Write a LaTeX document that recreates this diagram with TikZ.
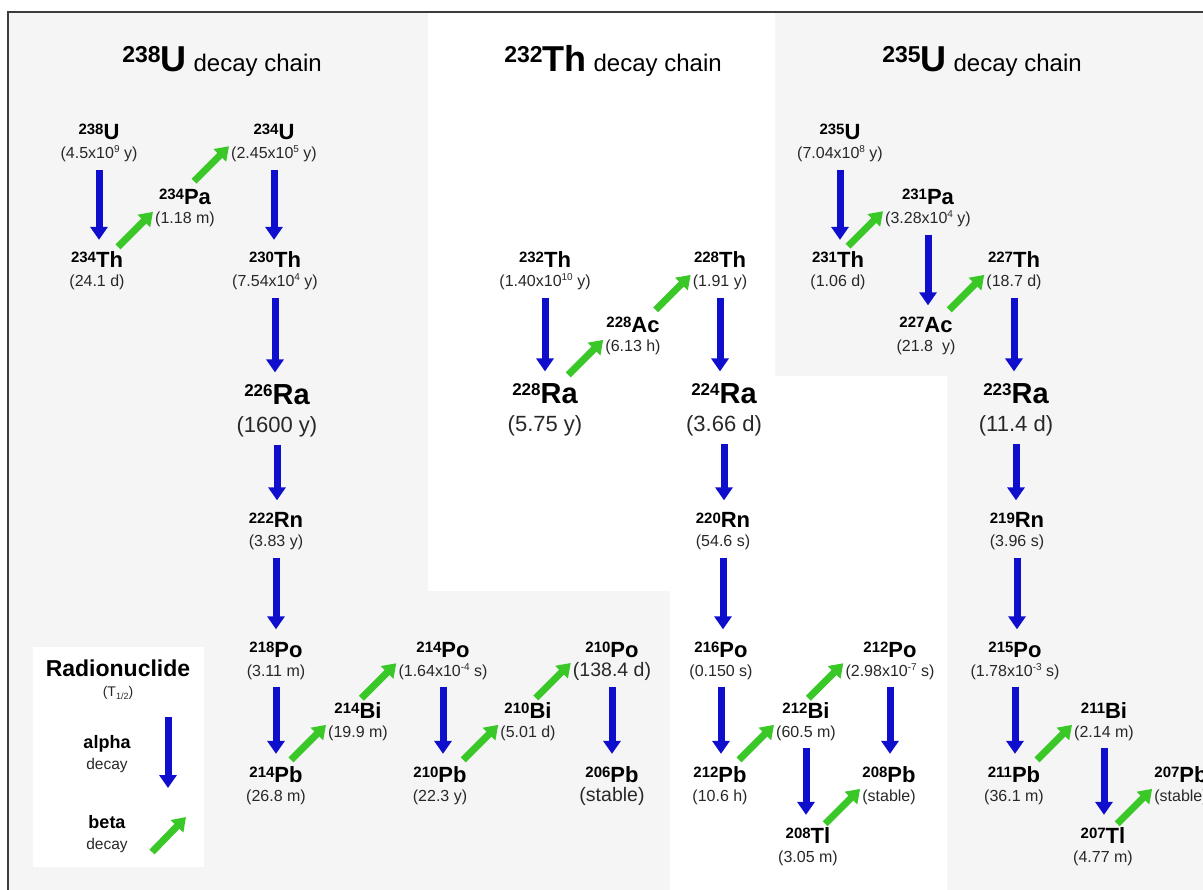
\documentclass[tikz,border=0pt]{standalone}
\usepackage{fontspec}
\setmainfont{Liberation Sans}
\usetikzlibrary{arrows.meta,calc}

\definecolor{panelgray}{RGB}{245,245,245}
\definecolor{framegray}{RGB}{60,60,60}
\definecolor{ablue}{RGB}{14,14,204}
\definecolor{bgreen}{RGB}{58,200,40}
\definecolor{textgray}{RGB}{40,40,40}

% isotope labels: mass number raised to cap height, element symbol bold
\newcommand\iso[2]{\raisebox{5pt}{\fontsize{15}{15}\selectfont\bfseries #1}{\fontsize{22}{22}\selectfont\bfseries #2}}
\newcommand\bigiso[2]{\raisebox{8.5pt}{\fontsize{17}{17}\selectfont\bfseries #1}{\fontsize{29}{29}\selectfont\bfseries #2}}
\newcommand\expo[1]{\raisebox{6pt}{\fontsize{10}{10}\selectfont #1}}
\newcommand\chaintitle[2]{\raisebox{9.3pt}{\fontsize{23}{23}\selectfont\bfseries #1}{\fontsize{36}{36}\selectfont\bfseries #2}\hspace{7pt}{\fontsize{24}{24}\selectfont decay chain}}

\tikzset{
  symb/.style={anchor=base, inner sep=0pt},
  hl/.style={anchor=base, inner sep=0pt, text=textgray, font=\fontsize{16}{16}\selectfont},
  hlmid/.style={hl, font=\fontsize{19.5}{20}\selectfont},
  hlbig/.style={hl, font=\fontsize{22}{22}\selectfont},
  alphaarrow/.style={draw=ablue, line width=7pt, -{Triangle[length=13pt,width=17pt]}},
  betaarrow/.style={draw=bgreen, line width=7pt, -{Triangle[length=13pt,width=17pt]}},
  legendtext/.style={anchor=base, inner sep=0pt},
}

% a nuclide: symbol node (name) and half-life node (name t) below it
\newcommand\nuclide[7][hl]{%
  \node[symb] (#2) at (#3,#4) {\iso{#5}{#6}};
  \node[#1] (#2t) at (#3,#4+19) {#7};}
\newcommand\bignuclide[6]{%
  \node[symb] (#1) at (#2,#3) {\bigiso{#4}{#5}};
  \node[hlbig] (#1t) at (#2,#3+28) {#6};}

% alpha decay: straight down from the parent's half-life to the daughter
\newcommand\alphadecay[2]{\draw[alphaarrow, shorten <=7pt, shorten >=12pt] (#1t.south) -- (#1t.south |- #2.north);}
% beta decay (#1 -> #2): diagonal arrow ending at the daughter's half-life
\newcommand\betadecay[2]{\draw[betaarrow] ([shift={(-37,27)}]#2t.west) -- ([shift={(-2,-8)}]#2t.west);}

\begin{document}
\begin{tikzpicture}[x=1pt,y=-1pt]
\useasboundingbox (0,0) rectangle (1203,890);

% panels
\fill[panelgray] (8,12) rectangle (1203,890);
\fill[white] (428,12.7) -- (775,12.7) -- (775,376) -- (947,376) -- (947,890)
  -- (670,890) -- (670,591) -- (428,591) -- cycle;
\draw[framegray, line width=1.4pt] (8,890) -- (8,12) -- (1203,12);

% titles
\node[symb] (title238) at (222,72) {\chaintitle{238}{U}};
\node[symb] (title232) at (613,72) {\chaintitle{232}{Th}};
\node[symb] (title235) at (982,72) {\chaintitle{235}{U}};

% ---------- 238U chain ----------
\nuclide{U238}{99}{140}{238}{U}{(4.5x10\expo{9} y)}
\nuclide{Th234}{97}{268}{234}{Th}{(24.1 d)}
\nuclide{Pa234}{185}{205}{234}{Pa}{(1.18 m)}
\nuclide{U234}{274}{140}{234}{U}{(2.45x10\expo{5} y)}
\nuclide{Th230}{275}{268}{230}{Th}{(7.54x10\expo{4} y)}
\bignuclide{Ra226}{277}{405}{226}{Ra}{(1600 y)}
\nuclide{Rn222}{276}{528}{222}{Rn}{(3.83 y)}
\nuclide{Po218}{276}{657}{218}{Po}{(3.11 m)}
\nuclide{Pb214}{276}{782}{214}{Pb}{(26.8 m)}
\nuclide{Bi214}{358}{718}{214}{Bi}{(19.9 m)}
\nuclide{Po214}{443}{657}{214}{Po}{(1.64x10\expo{-4} s)}
\nuclide{Pb210}{440}{782}{210}{Pb}{(22.3 y)}
\nuclide{Bi210}{528}{718}{210}{Bi}{(5.01 d)}
\nuclide[hlmid]{Po210}{612}{657}{210}{Po}{(138.4 d)}
\nuclide[hlmid]{Pb206}{612}{782}{206}{Pb}{(stable)}

\alphadecay{U238}{Th234}
\betadecay{Th234}{Pa234}
\betadecay{Pa234}{U234}
\alphadecay{U234}{Th230}
\alphadecay{Th230}{Ra226}
\alphadecay{Ra226}{Rn222}
\alphadecay{Rn222}{Po218}
\alphadecay{Po218}{Pb214}
\betadecay{Pb214}{Bi214}
\betadecay{Bi214}{Po214}
\alphadecay{Po214}{Pb210}
\betadecay{Pb210}{Bi210}
\betadecay{Bi210}{Po210}
\alphadecay{Po210}{Pb206}

% ---------- 232Th chain ----------
\nuclide{Th232}{545}{268}{232}{Th}{(1.40x10\expo{10} y)}
\bignuclide{Ra228}{545}{404}{228}{Ra}{(5.75 y)}
\nuclide{Ac228}{633}{333}{228}{Ac}{(6.13 h)}
\nuclide{Th228}{720}{268}{228}{Th}{(1.91 y)}
\bignuclide{Ra224}{724}{404}{224}{Ra}{(3.66 d)}
\nuclide{Rn220}{723}{528}{220}{Rn}{(54.6 s)}
\nuclide{Po216}{721}{657}{216}{Po}{(0.150 s)}
\nuclide{Pb212}{720}{782}{212}{Pb}{(10.6 h)}
\nuclide{Bi212}{806}{718}{212}{Bi}{(60.5 m)}
\nuclide{Po212}{890}{657}{212}{Po}{(2.98x10\expo{-7} s)}
\nuclide{Pb208}{889}{782}{208}{Pb}{(stable)}
\nuclide{Tl208}{808}{843}{208}{Tl}{(3.05 m)}

\alphadecay{Th232}{Ra228}
\betadecay{Ra228}{Ac228}
\betadecay{Ac228}{Th228}
\alphadecay{Th228}{Ra224}
\alphadecay{Ra224}{Rn220}
\alphadecay{Rn220}{Po216}
\alphadecay{Po216}{Pb212}
\betadecay{Pb212}{Bi212}
\betadecay{Bi212}{Po212}
\alphadecay{Po212}{Pb208}
\alphadecay{Bi212}{Tl208}
\betadecay{Tl208}{Pb208}

% ---------- 235U chain ----------
\nuclide{U235}{840}{140}{235}{U}{(7.04x10\expo{8} y)}
\nuclide{Th231}{838}{268}{231}{Th}{(1.06 d)}
\nuclide{Pa231}{928}{205}{231}{Pa}{(3.28x10\expo{4} y)}
\nuclide{Ac227}{926}{333}{227}{Ac}{(21.8~~y)}
\nuclide{Th227}{1014}{268}{227}{Th}{(18.7 d)}
\bignuclide{Ra223}{1016}{404}{223}{Ra}{(11.4 d)}
\nuclide{Rn219}{1017}{528}{219}{Rn}{(3.96 s)}
\nuclide{Po215}{1015}{657}{215}{Po}{(1.78x10\expo{-3} s)}
\nuclide{Pb211}{1014}{782}{211}{Pb}{(36.1 m)}
\nuclide{Bi211}{1104}{718}{211}{Bi}{(2.14 m)}
\nuclide{Tl207}{1103}{843}{207}{Tl}{(4.77 m)}
\nuclide{Pb207}{1181}{782}{207}{Pb}{(stable)}

\alphadecay{U235}{Th231}
\betadecay{Th231}{Pa231}
\alphadecay{Pa231}{Ac227}
\betadecay{Ac227}{Th227}
\alphadecay{Th227}{Ra223}
\alphadecay{Ra223}{Rn219}
\alphadecay{Rn219}{Po215}
\alphadecay{Po215}{Pb211}
\betadecay{Pb211}{Bi211}
\alphadecay{Bi211}{Tl207}
\betadecay{Tl207}{Pb207}

% ---------- legend ----------
\fill[white] (33,647) rectangle (204,867);
\node[legendtext, font=\fontsize{23}{23}\selectfont\bfseries] (lgtitle) at (118,676) {Radionuclide};
\node[legendtext, text=textgray, font=\fontsize{14}{14}\selectfont] (lgsub) at (118,696)
  {(T\raisebox{-3pt}{\fontsize{9}{9}\selectfont 1/2})};
\node[legendtext, font=\fontsize{18}{18}\selectfont\bfseries] (lgalpha) at (107,748) {alpha};
\node[legendtext, text=textgray, font=\fontsize{15.5}{15.5}\selectfont] (lgalphad) at (107,769) {decay};
\node[legendtext, font=\fontsize{18}{18}\selectfont\bfseries] (lgbeta) at (107,828) {beta};
\node[legendtext, text=textgray, font=\fontsize{15.5}{15.5}\selectfont] (lgbetad) at (107,849) {decay};
\coordinate (lgA1) at (168,717);
\coordinate (lgA2) at (168,788);
\coordinate (lgB1) at (152,852);
\coordinate (lgB2) at (186,817);
\draw[alphaarrow] (lgA1) -- (lgA2);
\draw[betaarrow] (lgB1) -- (lgB2);
\end{tikzpicture}
\end{document}
